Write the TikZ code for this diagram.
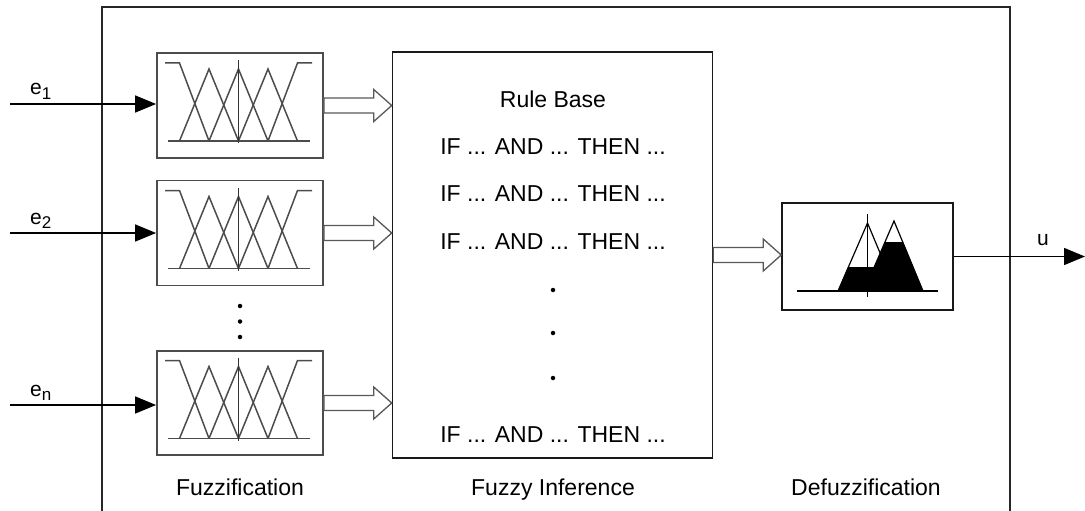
\documentclass[tikz,border=0pt]{standalone}
\usepackage{fontspec}
\setmainfont{Liberation Sans}
\usetikzlibrary{arrows.meta,calc}

% membership functions of one fuzzifier, drawn about the centre of node #1
\newcommand\membership[1]{%
  \begin{scope}[shift={(#1.center)}]
    \draw[mf] (-72,35.5) -- (70,35.5);
    \draw[mf] (-75,-42.5) -- (-60.5,-42.5) -- (-31,35.5);
    \draw[mf] (-60.5,35.5) -- (-31,-36.5) -- (-1.5,35.5);
    \draw[mf] (-31,35.5) -- (-1.5,-36.5) -- (28,35.5);
    \draw[mf] (-1.5,35.5) -- (28,-36.5) -- (57.5,35.5);
    \draw[mf] (28,35.5) -- (57.5,-42.5) -- (72,-42.5);
    \draw[mf,draw=black!80] (-1.5,-45.5) -- (-1.5,37.5);
  \end{scope}}

% wide hollow arrow from node #1 to node #2
\newcommand\fatarrow[2]{%
  \draw[hollow] let \p1=(#1.east), \p2=(#2.west) in
    (\x1,\y1+7.5pt) -- (\x2-18pt,\y1+7.5pt) -- (\x2-18pt,\y1+16pt) -- (\x2,\y1)
    -- (\x2-18pt,\y1-16pt) -- (\x2-18pt,\y1-7.5pt) -- (\x1,\y1-7.5pt) -- cycle;}

\tikzset{
  frame/.style={line width=1.8pt, draw=black!85},
  fuzzbox/.style={draw=black!70, line width=1.8pt, minimum width=166pt,
                  minimum height=105pt, inner sep=0pt},
  blockbox/.style={draw=black!90, line width=1.5pt, inner sep=0pt},
  mf/.style={draw=black!70, line width=1.5pt},
  hollow/.style={draw=black!65, line width=1.3pt, fill=white},
  inarrow/.style={line width=1.5pt, -{Triangle[length=21pt,width=17pt]}},
  txt/.style={font=\fontsize{23}{27}\selectfont, inner sep=0pt, anchor=base},
  lbl/.style={font=\fontsize{21}{25}\selectfont, inner sep=0pt, anchor=base west},
  dot/.style={circle, fill=black, inner sep=0pt, minimum size=4.5pt},
}

\begin{document}
\begin{tikzpicture}[x=1pt, y=-1pt]
  \useasboundingbox (0,0) rectangle (1085,511);

  % enclosing controller frame, open at the bottom
  \draw[frame] (102,515) -- (102,7) -- (1010,7) -- (1010,515);

  % fuzzifiers
  \node[fuzzbox] (f1) at (240,105.5) {};
  \node[fuzzbox] (f2) at (240,233) {};
  \node[fuzzbox, minimum height=104pt] (f3) at (240,403) {};
  \membership{f1}
  \membership{f2}
  \membership{f3}
  \node[dot] (v1) at (240,306) {};
  \node[dot] (v2) at (240,321.5) {};
  \node[dot] (v3) at (240,337) {};

  % inference block with its rule base
  \node[blockbox, minimum width=320pt, minimum height=406pt] (inf) at (552.5,255) {};
  \node[txt] (rb) at (553,107) {Rule Base};
  \node[txt] (r1) at (553,154) {IF ... AND ... THEN ...};
  \node[txt] (r2) at (553,201) {IF ... AND ... THEN ...};
  \node[txt] (r3) at (553,249) {IF ... AND ... THEN ...};
  \node[dot] (d1) at (553,290) {};
  \node[dot] (d2) at (553,333) {};
  \node[dot] (d3) at (553,378) {};
  \node[txt] (rn) at (553,442) {IF ... AND ... THEN ...};

  % defuzzifier
  \node[blockbox, minimum width=171pt, minimum height=107pt] (dz) at (867.5,256.5) {};
  \begin{scope}[shift={(dz.center)}]
    \draw[line width=1.2pt] (-29.5,34.5) -- (0,-33.5) -- (28.5,34.5);
    \draw[line width=1.2pt] (-3.5,34.5) -- (26.5,-35.5) -- (55.5,34.5);
    \fill (-29.5,34.5) -- (-19.5,10.5) -- (6.5,10.5) -- (17.5,-14.5)
          -- (35.5,-14.5) -- (55.5,34.5) -- cycle;
    \draw[line width=1.3pt] (-70.5,34.5) -- (70.5,34.5);
    \draw[line width=1.3pt] (0,-42.5) -- (0,40.5);
  \end{scope}

  % inputs and output
  \coordinate (i1) at (10,104);
  \coordinate (i2) at (10,233);
  \coordinate (i3) at (10,405);
  \coordinate (o) at (1085,256.5);
  \draw[inarrow] (i1) -- (i1 -| f1.west);
  \draw[inarrow] (i2) -- (i2 -| f2.west);
  \draw[inarrow] (i3) -- (i3 -| f3.west);
  \draw[inarrow] (dz.east) -- (o);
  \node[lbl] (le1) at (30,95) {e\raisebox{-0.4ex}{\fontsize{17}{19}\selectfont 1}};
  \node[lbl] (le2) at (30,224) {e\raisebox{-0.4ex}{\fontsize{17}{19}\selectfont 2}};
  \node[lbl] (len) at (30,396) {e\raisebox{-0.4ex}{\fontsize{17}{19}\selectfont n}};
  \node[lbl] (lu) at (1037,245) {u};

  % fuzzy sets passed between blocks
  \fatarrow{f1}{inf}
  \fatarrow{f2}{inf}
  \fatarrow{f3}{inf}
  \fatarrow{inf}{dz}

  % block captions
  \node[txt] (c1) at (240,495) {Fuzzification};
  \node[txt] (c2) at (553,495) {Fuzzy Inference};
  \node[txt] (c3) at (866,495) {Defuzzification};
\end{tikzpicture}
\end{document}
